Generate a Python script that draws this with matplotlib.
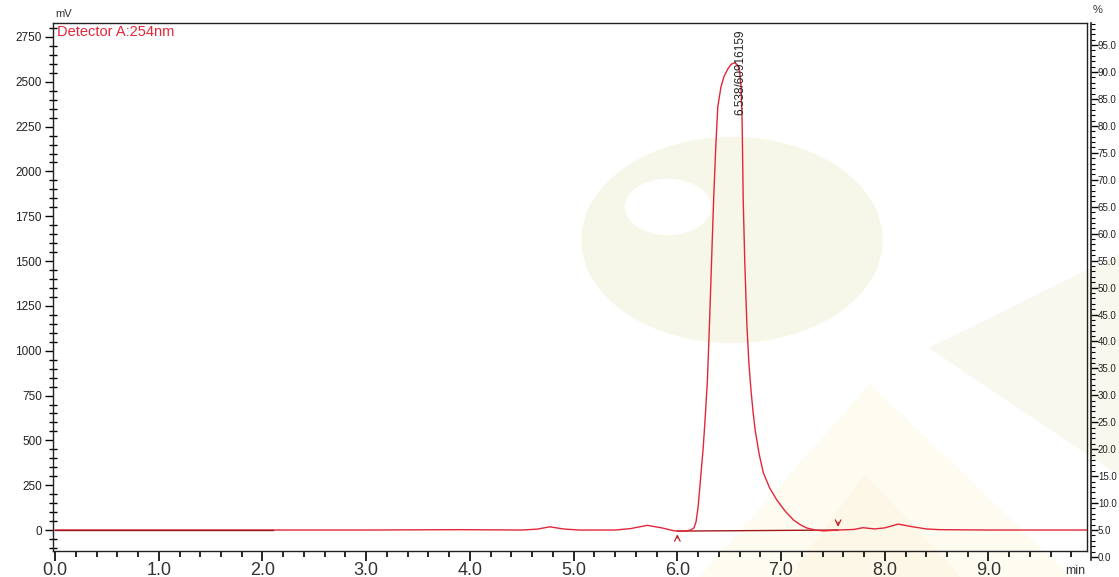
import numpy as np
import matplotlib
matplotlib.use("Agg")
import matplotlib.pyplot as plt
from matplotlib.patches import Ellipse, Polygon
from matplotlib.ticker import MultipleLocator, FormatStrFormatter

plt.rcParams['font.family'] = ['Liberation Sans', 'DejaVu Sans']

# chromatogram (time in min, signal in mV)
time_min = [0.0, 1.0, 2.0, 3.0, 3.9, 4.5, 4.65, 4.77, 4.9, 5.05, 5.4, 5.55, 5.71, 5.85,
            5.95, 6.0, 6.08, 6.13, 6.16, 6.18, 6.20, 6.22, 6.25, 6.27, 6.29, 6.31, 6.33,
            6.35, 6.37, 6.39, 6.42, 6.45, 6.49, 6.52, 6.55, 6.58, 6.60, 6.615, 6.625,
            6.635, 6.65, 6.67, 6.69, 6.71, 6.73, 6.75, 6.79, 6.83, 6.89, 6.96, 7.04,
            7.12, 7.19, 7.25, 7.33, 7.41, 7.55, 7.7, 7.79, 7.9, 8.0, 8.13, 8.25, 8.4,
            8.53, 9.0, 9.95]
signal_mv = [0, 0, 0, 0, 2, 0, 5, 18, 6, 0, 0, 8, 26, 12,
             -2, -6, -5, 0, 12, 45, 128, 260, 463, 640, 837, 1150, 1500,
             1842, 2130, 2360, 2470, 2530, 2575, 2598, 2606, 2595, 2560, 2470, 2270,
             1842, 1500, 1150, 930, 780, 660, 558, 420, 318, 235, 167, 105,
             56, 28, 11, 0, -5, 0, 3, 13, 6, 12, 33, 20, 6,
             2, 0, 0]

# integration baseline and peak marks
base_t = [6.0, 7.55]
base_mv = [-6, 0]
peak_time = 6.538
peak_label = "6.538/60916159"

x_ticks = [0.0, 1.0, 2.0, 3.0, 4.0, 5.0, 6.0, 7.0, 8.0, 9.0]
y_ticks = [0, 250, 500, 750, 1000, 1250, 1500, 1750, 2000, 2250, 2500, 2750]
pct_ticks = list(range(0, 100, 5))

W, H = 1119, 577
fig = plt.figure(figsize=(W / 100, H / 100), dpi=100)


def px(x, y):
    return (x / W, 1 - y / H)


# faint watermark behind the chart
wm = [
    Ellipse(px(732, 240), 300 / W, 205 / H, color='#f7f7e9', zorder=-3),
    Ellipse(px(668, 207), 85 / W, 55 / H, color='white', zorder=-2),
    Polygon([px(930, 348), px(1119, 255), px(1119, 475)], color='#f9f8ee', zorder=-3),
    Polygon([px(700, 577), px(870, 385), px(1070, 577)], color='#fefbf1', zorder=-3),
    Polygon([px(790, 577), px(865, 475), px(960, 577)], color='#fdf7e7', zorder=-2),
]
for p in wm:
    p.set_transform(fig.transFigure)
    fig.add_artist(p)

ax = fig.add_axes([53 / W, 1 - 551 / H, (1087 - 53) / W, (551 - 23) / H])
ax.set_facecolor('none')

ax.plot(time_min, signal_mv, color='#e3263a', lw=1.0, zorder=3)
ax.plot(base_t, base_mv, color='#a01a1a', lw=1.0, zorder=2)
ax.plot([0, 2.1], [0, 0], color='#9a1b1b', lw=1.0, zorder=4)

# start / end markers of the integrated peak
ax.annotate('', xy=(base_t[0], -8), xytext=(base_t[0], -60),
            arrowprops=dict(arrowstyle='->', color='#c0202a', lw=0.9))
ax.annotate('', xy=(base_t[1], 2), xytext=(base_t[1], 60),
            arrowprops=dict(arrowstyle='->', color='#c0202a', lw=0.9))

ax.text(peak_time + 0.067, 2790, peak_label, rotation=90, ha='center', va='top',
        fontsize=8.5, color='#222222')
ax.text(0.004, 0.997, 'Detector A:254nm', transform=ax.transAxes, ha='left', va='top',
        fontsize=10.5, color='#e3263a')

ax.set_xlim(-0.02, 9.95)
ax.set_ylim(-117, 2828)
ax.set_xticks(x_ticks)
ax.set_xticklabels([f"{v:.1f}" for v in x_ticks])
ax.xaxis.set_minor_locator(MultipleLocator(0.2))
ax.set_yticks(y_ticks)
ax.yaxis.set_minor_locator(MultipleLocator(50))

ax.tick_params(axis='x', which='major', direction='out', length=7, width=1.2,
               labelsize=13, labelcolor='#333333', pad=1)
ax.tick_params(axis='x', which='minor', direction='out', length=4, width=1.2)
ax.tick_params(axis='y', which='major', direction='out', length=6, width=1,
               labelsize=8.5, labelcolor='#222222', pad=2)
ax.tick_params(axis='y', which='minor', direction='inout', length=6, width=1)
for s in ax.spines.values():
    s.set_color('#222222')
    s.set_linewidth(1.0)

fig.text(55 / W, 1 - 14 / H, 'mV', fontsize=8, color='#333333', ha='left', va='center')
fig.text(1093 / W, 1 - 10 / H, '%', fontsize=8, color='#333333', ha='left', va='center')
fig.text(1075 / W, 1 - 571 / H, 'min', fontsize=9, color='#333333', ha='center', va='center')

# percent scale on the right
ax2 = fig.add_axes([1089 / W, 1 - 560 / H, 2 / W, (560 - 23) / H])
ax2.set_facecolor('none')
for side in ['left', 'top', 'bottom']:
    ax2.spines[side].set_visible(False)
ax2.spines['right'].set_color('#222222')
ax2.spines['right'].set_linewidth(1.2)
ax2.set_xticks([])
ax2.yaxis.tick_right()
ax2.set_ylim(-0.56, 99.1)
ax2.set_yticks(pct_ticks)
ax2.set_yticklabels([f"{v:.1f}" for v in pct_ticks])
ax2.yaxis.set_minor_locator(MultipleLocator(1))
ax2.tick_params(axis='y', which='major', direction='out', length=5, width=1,
                labelsize=7, labelcolor='#222222', pad=0)
ax2.tick_params(axis='y', which='minor', direction='out', length=3, width=0.8)

fig.savefig('out.png', dpi=100)
